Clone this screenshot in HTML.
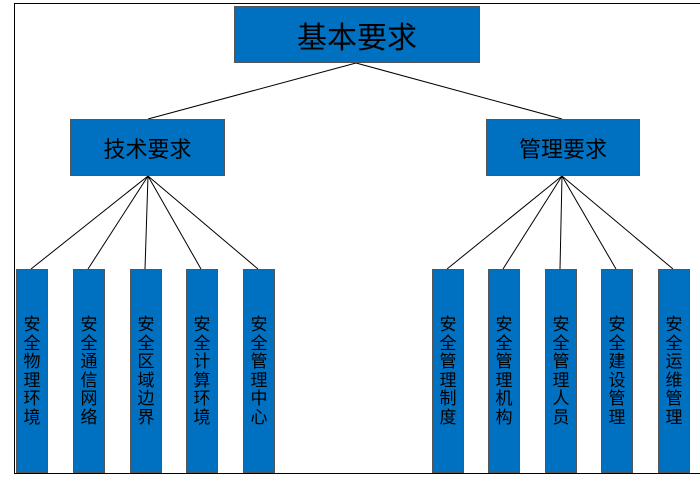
<!DOCTYPE html>
<html><head><meta charset="utf-8"><style>
body{margin:0;width:700px;height:480px;background:#fff;position:relative;overflow:hidden;font-family:"Liberation Sans","Noto Sans CJK SC",sans-serif}
.b{position:absolute;background:#0070C0;border:1px solid #555;box-sizing:border-box;color:#000;display:flex;align-items:center;justify-content:center}
.v{width:32px;top:269px;height:204px;font-size:17px;line-height:18.5px;text-align:center;padding-top:0;align-items:flex-start;padding-top:46px;word-break:break-all}
</style></head><body>
<div style="position:absolute;left:14px;top:3px;width:700px;height:471px;border:1.5px solid #000;box-sizing:border-box"></div>
<svg style="position:absolute;left:0;top:0" width="700" height="480"><g stroke="#000" stroke-width="1" fill="none">
<line x1="356" y1="63" x2="148" y2="119"/><line x1="356" y1="63" x2="562" y2="119"/>
<line x1="148" y1="176" x2="31" y2="269"/><line x1="148" y1="176" x2="88" y2="269"/><line x1="148" y1="176" x2="145" y2="269"/><line x1="148" y1="176" x2="201" y2="269"/><line x1="148" y1="176" x2="258" y2="269"/>
<line x1="562" y1="176" x2="447" y2="269"/><line x1="562" y1="176" x2="503" y2="269"/><line x1="562" y1="176" x2="560" y2="269"/><line x1="562" y1="176" x2="616" y2="269"/><line x1="562" y1="176" x2="673" y2="269"/>
</g></svg>
<div class="b" style="left:234px;top:6px;width:246px;height:57px;font-size:30px">基本要求</div>
<div class="b" style="left:70px;top:119px;width:155px;height:57px;font-size:22px">技术要求</div>
<div class="b" style="left:486px;top:119px;width:154px;height:57px;font-size:22px">管理要求</div>
<div class="b v" style="left:16px">安全物理环境</div>
<div class="b v" style="left:73px">安全通信网络</div>
<div class="b v" style="left:130px">安全区域边界</div>
<div class="b v" style="left:186px">安全计算环境</div>
<div class="b v" style="left:243px">安全管理中心</div>
<div class="b v" style="left:432px">安全管理制度</div>
<div class="b v" style="left:488px">安全管理机构</div>
<div class="b v" style="left:545px">安全管理人员</div>
<div class="b v" style="left:601px">安全建设管理</div>
<div class="b v" style="left:658px">安全运维管理</div>
</body></html>
